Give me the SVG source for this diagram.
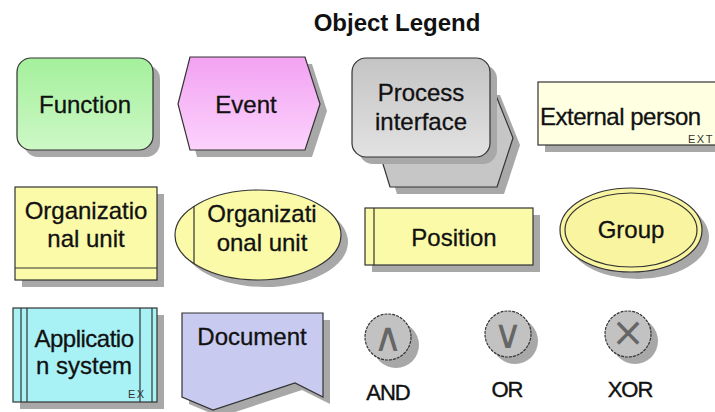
<svg xmlns="http://www.w3.org/2000/svg" width="715" height="412" viewBox="0 0 715 412">
<defs>
<linearGradient id="gGreen" x1="0" y1="0" x2="0" y2="1"><stop offset="0" stop-color="#a4f09c"/><stop offset="1" stop-color="#cdf8c6"/></linearGradient>
<linearGradient id="gPink" x1="0" y1="0" x2="0" y2="1"><stop offset="0" stop-color="#f2a2f2"/><stop offset="1" stop-color="#fcd2fc"/></linearGradient>
<linearGradient id="gGrey" x1="0" y1="0" x2="0" y2="1"><stop offset="0" stop-color="#c4c4c4"/><stop offset="1" stop-color="#e2e2e2"/></linearGradient>
</defs>
<style>
.sh{fill:#a8a8a8;stroke:none}
.bd{stroke:#333;stroke-width:1.2}
.t{font-family:"Liberation Sans",Arial,sans-serif;font-size:24px;fill:#111;stroke:#111;stroke-width:0.3;text-anchor:middle}
.g{font-family:"Liberation Sans",Arial,sans-serif;font-size:22px;fill:#111;stroke:#111;stroke-width:0.4;text-anchor:middle;letter-spacing:-1px}
.s{font-family:"Liberation Sans",Arial,sans-serif;font-size:11px;fill:#333;letter-spacing:1.5px}
.op{font-family:"DejaVu Sans",sans-serif;font-size:40px;fill:#666;text-anchor:middle}
.ln{stroke:#333;stroke-width:1.2;fill:none}
</style>
<rect width="715" height="412" fill="#fff"/>
<text x="397" y="31" font-family="'Liberation Sans',Arial,sans-serif" font-size="24" font-weight="bold" text-anchor="middle" fill="#111">Object Legend</text>

<g id="function">
<rect class="sh" x="24" y="65" width="136" height="92" rx="14"/>
<rect class="bd" x="17" y="58" width="136" height="92" rx="14" fill="url(#gGreen)"/>
<text class="t" x="85" y="113">Function</text>
</g>

<g id="event">
<polygon class="sh" points="197,64 312,64 327,111 312,157 197,157 185,111"/>
<polygon class="bd" points="190,57 305,57 320,104 305,150 190,150 178,104" fill="url(#gPink)"/>
<text class="t" x="246" y="113">Event</text>
</g>

<g id="process-interface">
<polygon class="sh" points="387,95 500,95 520,145 504,194 397,194 382,145"/>
<polygon class="bd" points="380,88 493,88 513,138 497,187 390,187 375,138" fill="#c6c6c6"/>
<rect class="sh" x="359" y="65" width="138" height="99" rx="14"/>
<rect class="bd" x="352" y="58" width="138" height="99" rx="14" fill="url(#gGrey)"/>
<text class="t" x="421" y="101">Process</text>
<text class="t" x="421" y="130">interface</text>
</g>

<g id="external-person">
<rect class="sh" x="545" y="89" width="182" height="63"/>
<rect class="bd" x="538" y="82" width="182" height="63" fill="#ffffe2"/>
<text class="t" x="540" y="125" style="text-anchor:start;letter-spacing:-0.5px">External person</text>
<text class="s" x="688" y="143">EXT</text>
</g>

<g id="org-unit-rect">
<rect class="sh" x="22" y="194" width="142" height="93"/>
<rect class="bd" x="15" y="187" width="142" height="93" fill="#fafaa8"/>
<line class="ln" x1="15" y1="268" x2="157" y2="268"/>
<text class="t" x="86" y="219">Organizatio</text>
<text class="t" x="86" y="247">nal unit</text>
</g>

<g id="org-unit-ellipse">
<ellipse class="sh" cx="265" cy="242" rx="83" ry="45"/>
<ellipse class="bd" cx="258" cy="235" rx="83" ry="45" fill="#fafaa8"/>
<line class="ln" x1="194" y1="206" x2="194" y2="264"/>
<text class="t" x="262" y="222">Organizati</text>
<text class="t" x="262" y="251">onal unit</text>
</g>

<g id="position">
<rect class="sh" x="372" y="215" width="168" height="57"/>
<rect class="bd" x="365" y="208" width="168" height="57" fill="#fafaa8"/>
<line class="ln" x1="374" y1="208" x2="374" y2="265"/>
<text class="t" x="454" y="246">Position</text>
</g>

<g id="group">
<ellipse class="sh" cx="638" cy="237" rx="71" ry="42"/>
<ellipse class="bd" cx="631" cy="230" rx="71" ry="42" fill="#f8f4a0"/>
<ellipse class="ln" cx="631" cy="230" rx="66" ry="37"/>
<text class="t" x="631" y="238">Group</text>
</g>

<g id="application-system">
<rect class="sh" x="20" y="315" width="144" height="94"/>
<rect class="bd" x="13" y="308" width="144" height="94" fill="#a8f2f6"/>
<line class="ln" x1="21" y1="308" x2="21" y2="402"/>
<line class="ln" x1="27" y1="308" x2="27" y2="402"/>
<line class="ln" x1="140" y1="308" x2="140" y2="402"/>
<line class="ln" x1="152" y1="308" x2="152" y2="402"/>
<text class="t" x="84" y="347" style="letter-spacing:-0.5px">Applicatio</text>
<text class="t" x="84" y="374">n system</text>
<text class="s" x="128" y="398">EX</text>
</g>

<g id="document">
<path class="sh" d="M189,320 H330 V404 L302,390 L220,417 L189,404 Z"/>
<path class="bd" d="M182,313 H323 V397 L295,383 L213,410 L182,397 Z" fill="#c8caf0"/>
<text class="t" x="252" y="345">Document</text>
</g>

<g id="and">
<circle class="sh" cx="396" cy="345" r="23"/>
<circle class="bd" cx="388" cy="337" r="23" fill="#c2c2c2" stroke-dasharray="3 1"/>
<text class="op" x="388" y="351">∧</text>
<text class="g" x="388" y="400">AND</text>
</g>

<g id="or">
<circle class="sh" cx="515" cy="341" r="23"/>
<circle class="bd" cx="508" cy="334" r="23" fill="#c2c2c2" stroke-dasharray="3 1"/>
<text class="op" x="508" y="348">∨</text>
<text class="g" x="507" y="397">OR</text>
</g>

<g id="xor">
<circle class="sh" cx="635" cy="341" r="23"/>
<circle class="bd" cx="628" cy="334" r="23" fill="#c2c2c2" stroke-dasharray="3 1"/>
<text class="op" x="628" y="346">×</text>
<text class="g" x="630" y="397">XOR</text>
</g>

<g id="connectors"></g>
</svg>
